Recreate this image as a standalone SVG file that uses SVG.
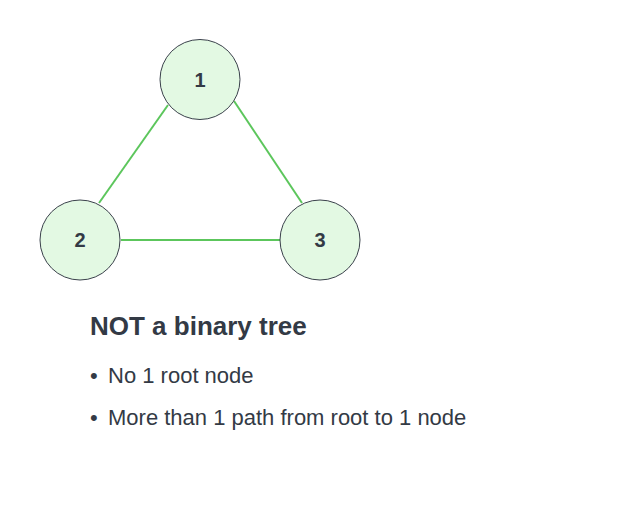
<svg xmlns="http://www.w3.org/2000/svg" width="620" height="522" viewBox="0 0 620 522">
<style>
.node circle{fill:#e3f9e3;stroke:#3a414b;stroke-width:1}
.node text{font-family:"Liberation Sans",Arial,sans-serif;font-weight:bold;font-size:20px;fill:#333a45;text-anchor:middle}
.edge{stroke:#5cc65c;stroke-width:2;fill:none}
.t{font-family:"Liberation Sans",Arial,sans-serif;fill:#333a45}
</style>
<rect width="620" height="522" fill="#ffffff"/>
<g id="connectors">
<line class="edge" x1="168" y1="105" x2="99" y2="203"/>
<line class="edge" x1="234" y1="101" x2="302" y2="203"/>
<line class="edge" x1="121" y1="240" x2="280" y2="240"/>
</g>
<g id="node1" class="node"><circle cx="200" cy="79.5" r="40"/><text x="200" y="86.5">1</text></g>
<g id="node2" class="node"><circle cx="80" cy="240" r="40"/><text x="80" y="247">2</text></g>
<g id="node3" class="node"><circle cx="320" cy="240" r="40"/><text x="320" y="247">3</text></g>
<g id="caption">
<text class="t" x="90" y="335" font-size="26" font-weight="bold">NOT a binary tree</text>
<text class="t" x="90" y="383" font-size="22">•</text>
<text class="t" x="108" y="383" font-size="22">No 1 root node</text>
<text class="t" x="90" y="425" font-size="22">•</text>
<text class="t" x="108" y="425" font-size="22">More than 1 path from root to 1 node</text>
</g>
</svg>
